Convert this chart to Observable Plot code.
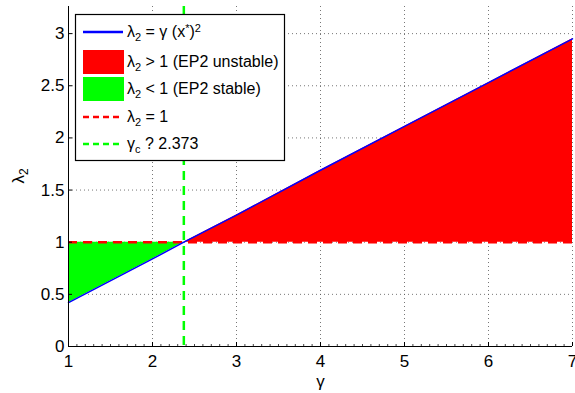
<!DOCTYPE html>
<html>
<head>
<meta charset="utf-8">
<script src="https://cdn.jsdelivr.net/npm/d3@7"></script>
<script src="https://cdn.jsdelivr.net/npm/@observablehq/plot@0.6"></script>
<style>
body { margin: 0; background: #fff; }
svg { font-family: "Liberation Sans", Arial, sans-serif; }
</style>
</head>
<body>
<div id="chart"></div>
<script>
const gamma = [1, 2, 2.373, 3, 4, 5, 6, 7];
const lambda2 = [0.42, 0.84, 1.0, 1.26, 1.69, 2.11, 2.53, 2.95];
const gammaC = 2.373;
const threshold = 1;
const xTicks = [1, 2, 3, 4, 5, 6, 7];
const yTicks = [0, 0.5, 1, 1.5, 2, 2.5, 3];
const yTickLabels = ["0", "0.5", "1", "1.5", "2", "2.5", "3"];

const pts = gamma.map((g, i) => ({g, l: lambda2[i]}));
const greenPts = pts.filter(d => d.g <= gammaC);
const redPts = pts.filter(d => d.g >= gammaC);

const plot = Plot.plot({
  width: 575,
  height: 393,
  marginLeft: 68,
  marginRight: 3,
  marginTop: 6,
  marginBottom: 47,
  style: {fontFamily: "Liberation Sans, Arial, sans-serif", fontSize: "17px", color: "#000", background: "#fff"},
  x: {domain: [1, 7]},
  y: {domain: [0, 3.26]},
  marks: [
    Plot.gridX(xTicks, {stroke: "#555", strokeOpacity: 0.8, strokeDasharray: "1,3"}),
    Plot.gridY(yTicks, {stroke: "#555", strokeOpacity: 0.8, strokeDasharray: "1,3"}),
    Plot.areaY(greenPts, {x: "g", y1: threshold, y2: "l", fill: "#00ff00"}),
    Plot.ruleY([threshold], {x1: 1, x2: 7, stroke: "#ff0000", strokeWidth: 2.5, strokeDasharray: "9,6"}),
    Plot.areaY(redPts, {x: "g", y1: threshold, y2: "l", fill: "#ff0000"}),
    Plot.line(pts, {x: "g", y: "l", stroke: "#0000ff", strokeWidth: 1.5}),
    Plot.ruleX([gammaC], {stroke: "#00ff00", strokeWidth: 2.5, strokeDasharray: "9,6"}),
    Plot.ruleX([1], {stroke: "#000"}),
    Plot.ruleY([0], {stroke: "#000"}),
    Plot.axisX(d3.range(1, 7.001, 0.1), {tickSize: -2, text: null, label: null, stroke: "#444"}),
    Plot.axisX(xTicks, {tickSize: -4, tickPadding: 12, label: "γ", labelAnchor: "center", labelArrow: "none", labelOffset: 40, fontSize: 17}),
    Plot.axisY(yTicks, {tickSize: -4, tickPadding: 8, tickFormat: (d, i) => yTickLabels[i], label: null, fontSize: 17})
  ]
});
document.getElementById("chart").appendChild(plot);

const svg = d3.select(plot);
svg.selectAll("g[aria-label^='x-axis'] text, g[aria-label^='y-axis'] text").attr("font-size", 17);

// y-axis label λ2
const yl = svg.append("text").attr("transform", "translate(24,176) rotate(-90)")
  .attr("text-anchor", "middle").attr("font-size", 17).attr("font-family", "Liberation Sans, Arial, sans-serif");
yl.append("tspan").text("λ");
yl.append("tspan").text("2").attr("font-size", 12).attr("baseline-shift", "-35%");

// Legend
const lg = svg.append("g").attr("font-family", "Liberation Sans, Arial, sans-serif").attr("font-size", 16).attr("text-anchor", "start");
lg.append("rect").attr("x", 75.5).attr("y", 14.5).attr("width", 209).attr("height", 146)
  .attr("fill", "#fff").attr("stroke", "#000").attr("stroke-width", 1.2);
const entries = [
  {type: "line", color: "#0000ff", dash: null, y: 32, parts: [["λ"], ["2", "sub"], [" = γ (x"], ["*", "sup"], [")"], ["2", "sup"]]},
  {type: "patch", color: "#ff0000", y: 62, parts: [["λ"], ["2", "sub"], [" > 1 (EP2 unstable)"]]},
  {type: "patch", color: "#00ff00", y: 89, parts: [["λ"], ["2", "sub"], [" < 1 (EP2 stable)"]]},
  {type: "line", color: "#ff0000", dash: "6,4", y: 117, parts: [["λ"], ["2", "sub"], [" = 1"]]},
  {type: "line", color: "#00ff00", dash: "6,4", y: 144, parts: [["γ"], ["c", "sub"], [" ? 2.373"]]}
];
entries.forEach(e => {
  if (e.type === "line") {
    lg.append("line").attr("x1", 83).attr("x2", 123).attr("y1", e.y).attr("y2", e.y)
      .attr("stroke", e.color).attr("stroke-width", 2.5).attr("stroke-dasharray", e.dash);
  } else {
    lg.append("rect").attr("x", 83).attr("y", e.y - 12).attr("width", 41).attr("height", 24).attr("fill", e.color);
  }
  const t = lg.append("text").attr("x", 127).attr("y", e.y + 5);
  e.parts.forEach(p => {
    const ts = t.append("tspan").text(p[0]);
    if (p[1] === "sub") ts.attr("baseline-shift", "-40%").attr("font-size", 11);
    else if (p[1] === "sup") ts.attr("baseline-shift", "45%").attr("font-size", 11);
    else ts.attr("baseline-shift", "0%").attr("font-size", 16);
  });
});
</script>
</body>
</html>
